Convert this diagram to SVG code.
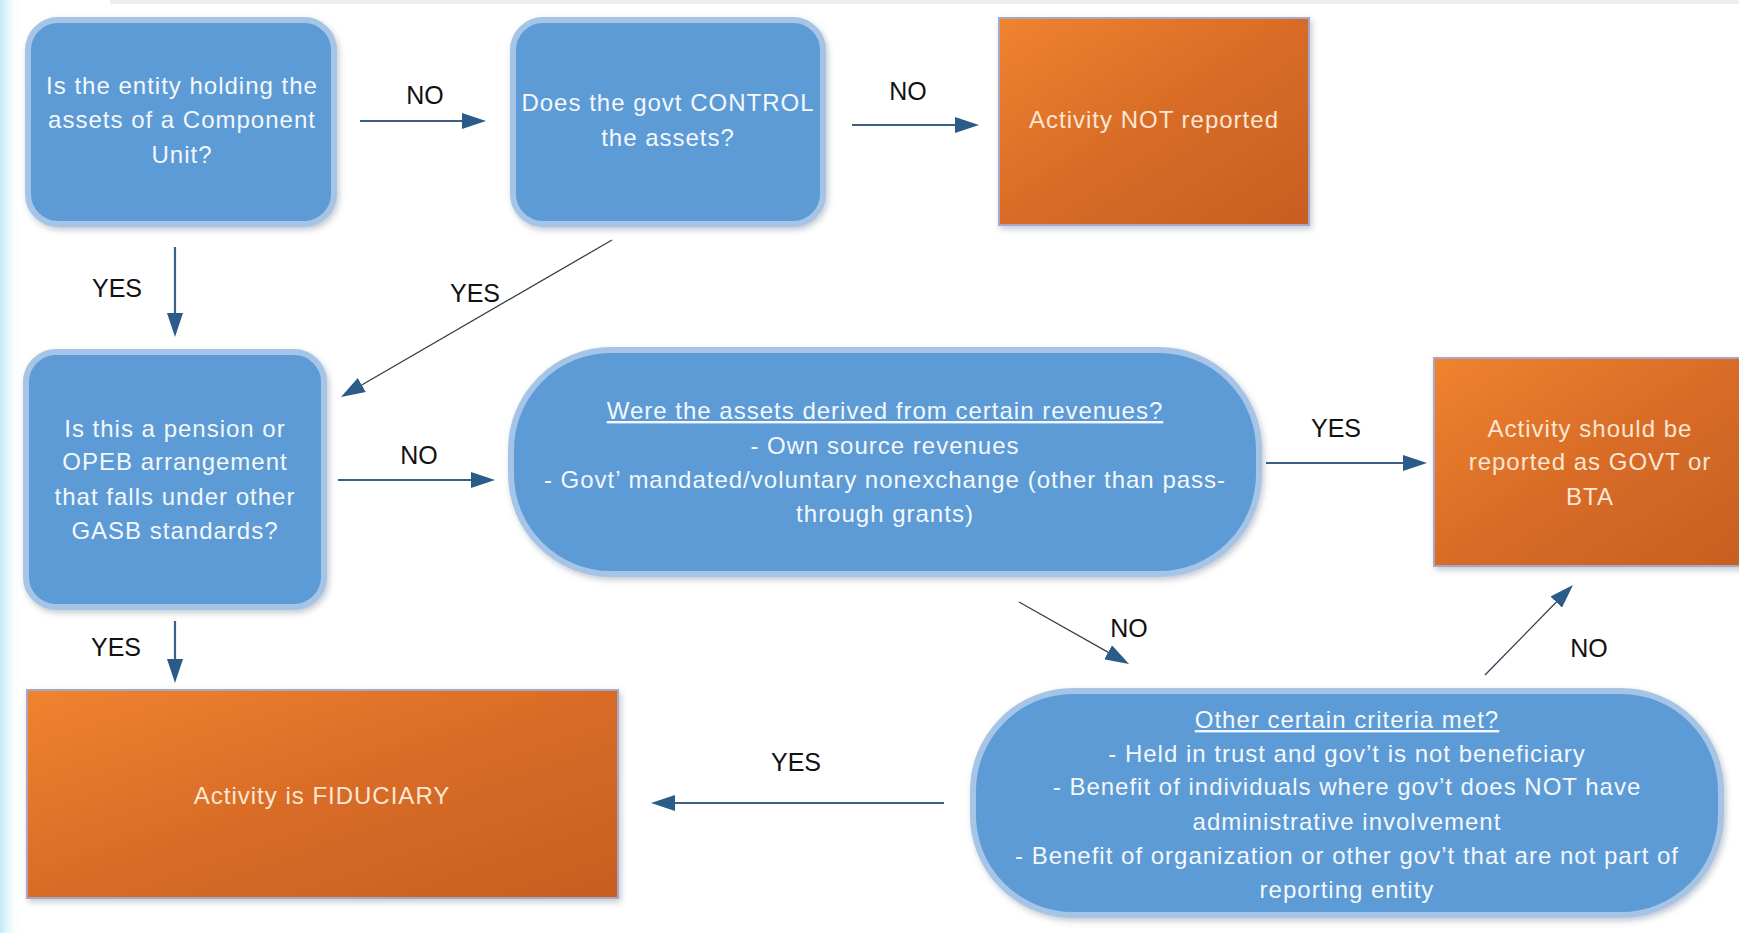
<svg xmlns="http://www.w3.org/2000/svg" width="1739" height="933" viewBox="0 0 1739 933">
  <defs>
    <style>
      text { font-family: "Liberation Sans", Arial, sans-serif; }
      .blue { fill: #5B9BD5; stroke: #A6C4E6; stroke-width: 6; }
      .orange { fill: url(#og); stroke: #A8A8C4; stroke-width: 2; }
      .bt { fill: #F4F8FC; font-size: 24px; letter-spacing: 1px; text-anchor: middle; }
      .ot { fill: #FCE6D4; font-size: 24px; letter-spacing: 1px; text-anchor: middle; }
      .u { text-decoration: underline; }
      .lbl { fill: #111111; font-size: 25px; text-anchor: middle; }
      .conn { stroke: #3A6088; stroke-width: 2.2; fill: none; }
      .thin { stroke: #35404E; stroke-width: 1.3; fill: none; }
    </style>
    <linearGradient id="og" x1="0" y1="0" x2="1" y2="1">
      <stop offset="0" stop-color="#F0832F"/>
      <stop offset="0.5" stop-color="#D86C27"/>
      <stop offset="1" stop-color="#C75F22"/>
    </linearGradient>
    <linearGradient id="leftbg" x1="0" y1="0" x2="1" y2="0">
      <stop offset="0" stop-color="#BFEAF5"/>
      <stop offset="1" stop-color="#FFFFFF" stop-opacity="0"/>
    </linearGradient>
    <filter id="sh" x="-10%" y="-10%" width="120%" height="125%">
      <feDropShadow dx="2" dy="3" stdDeviation="3" flood-color="#7A8899" flood-opacity="0.45"/>
    </filter>
    <marker id="ah" viewBox="0 0 24 16" refX="18" refY="8" markerWidth="24" markerHeight="16" markerUnits="userSpaceOnUse" orient="auto">
      <path d="M0,0 L24,8 L0,16 z" fill="#2B5B89"/>
    </marker>
  </defs>

  <rect x="0" y="0" width="1739" height="933" fill="#FFFFFF"/>
  <rect x="0" y="0" width="22" height="933" fill="url(#leftbg)"/>
  <rect x="110" y="0" width="1629" height="4" fill="#ECEEF0"/>

  <g id="node-component-unit">
    <rect class="blue" x="28" y="20" width="306" height="204" rx="30" filter="url(#sh)"/>
    <text class="bt" x="182" y="94">Is the entity holding the</text>
    <text class="bt" x="182" y="128">assets of a Component</text>
    <text class="bt" x="182" y="163">Unit?</text>
  </g>

  <g id="node-govt-control">
    <rect class="blue" x="513" y="20" width="310" height="204" rx="30" filter="url(#sh)"/>
    <text class="bt" x="668" y="111">Does the govt CONTROL</text>
    <text class="bt" x="668" y="146">the assets?</text>
  </g>

  <g id="node-not-reported">
    <rect class="orange" x="999" y="18" width="310" height="207" filter="url(#sh)"/>
    <text class="ot" x="1154" y="128">Activity NOT reported</text>
  </g>

  <g id="node-pension">
    <rect class="blue" x="26" y="352" width="298" height="255" rx="30" filter="url(#sh)"/>
    <text class="bt" x="175" y="437">Is this a pension or</text>
    <text class="bt" x="175" y="470">OPEB arrangement</text>
    <text class="bt" x="175" y="505">that falls under other</text>
    <text class="bt" x="175" y="539">GASB standards?</text>
  </g>

  <g id="node-revenues">
    <rect class="blue" x="511" y="350" width="748" height="224" rx="100" filter="url(#sh)"/>
    <text class="bt u" x="885" y="419">Were the assets derived from certain revenues?</text>
    <text class="bt" x="885" y="454">- Own source revenues</text>
    <text class="bt" x="885" y="488">- Govt’ mandated/voluntary nonexchange (other than pass-</text>
    <text class="bt" x="885" y="522">through grants)</text>
  </g>

  <g id="node-govt-bta">
    <rect class="orange" x="1434" y="358" width="314" height="208" filter="url(#sh)"/>
    <text class="ot" x="1590" y="437">Activity should be</text>
    <text class="ot" x="1590" y="470">reported as GOVT or</text>
    <text class="ot" x="1590" y="505">BTA</text>
  </g>

  <g id="node-fiduciary">
    <rect class="orange" x="27" y="690" width="591" height="208" filter="url(#sh)"/>
    <text class="ot" x="322" y="804">Activity is FIDUCIARY</text>
  </g>

  <g id="node-other-criteria">
    <rect class="blue" x="973" y="691" width="748" height="224" rx="100" filter="url(#sh)"/>
    <text class="bt u" x="1347" y="728">Other certain criteria met?</text>
    <text class="bt" x="1347" y="762">- Held in trust and gov’t is not beneficiary</text>
    <text class="bt" x="1347" y="795">- Benefit of individuals where gov’t does NOT have</text>
    <text class="bt" x="1347" y="830">administrative involvement</text>
    <text class="bt" x="1347" y="864">- Benefit of organization or other gov’t that are not part of</text>
    <text class="bt" x="1347" y="898">reporting entity</text>
  </g>

  <g id="connectors">
    <line class="conn" x1="360" y1="121" x2="480" y2="121" marker-end="url(#ah)"/>
    <line class="conn" x1="852" y1="125" x2="973" y2="125" marker-end="url(#ah)"/>
    <line class="conn" x1="175" y1="247" x2="175" y2="331" marker-end="url(#ah)"/>
    <line class="thin" x1="612" y1="240" x2="346.2" y2="394" marker-end="url(#ah)"/>
    <line class="conn" x1="338" y1="480" x2="489" y2="480" marker-end="url(#ah)"/>
    <line class="conn" x1="1266" y1="463" x2="1421" y2="463" marker-end="url(#ah)"/>
    <line class="conn" x1="175" y1="621" x2="175" y2="677" marker-end="url(#ah)"/>
    <line class="thin" x1="1019" y1="602" x2="1123.8" y2="661.1" marker-end="url(#ah)"/>
    <line class="thin" x1="1485" y1="675" x2="1568.8" y2="589.3" marker-end="url(#ah)"/>
    <line class="conn" x1="944" y1="803" x2="657" y2="803" marker-end="url(#ah)"/>

    <text class="lbl" x="425" y="104">NO</text>
    <text class="lbl" x="908" y="100">NO</text>
    <text class="lbl" x="117" y="297">YES</text>
    <text class="lbl" x="475" y="302">YES</text>
    <text class="lbl" x="419" y="464">NO</text>
    <text class="lbl" x="1336" y="437">YES</text>
    <text class="lbl" x="116" y="656">YES</text>
    <text class="lbl" x="1129" y="637">NO</text>
    <text class="lbl" x="1589" y="657">NO</text>
    <text class="lbl" x="796" y="771">YES</text>
  </g>
</svg>
